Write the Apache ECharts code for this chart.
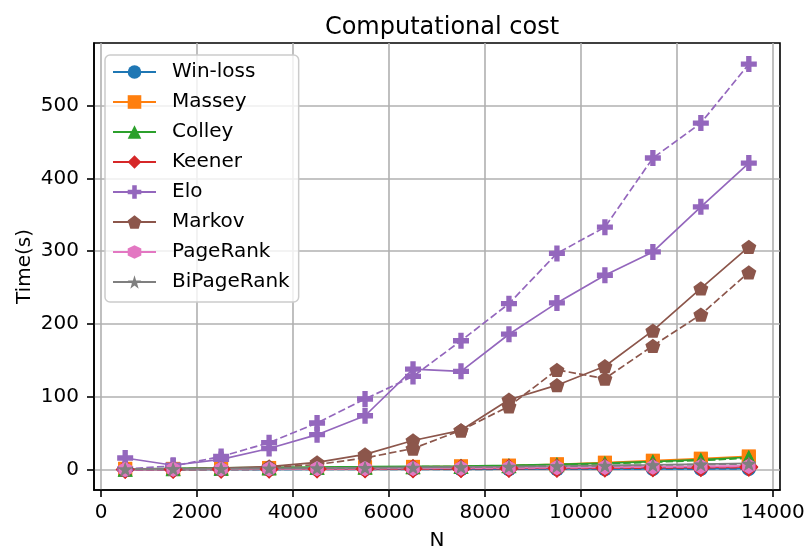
<!DOCTYPE html>
<html>
<head>
<meta charset="utf-8">
<script src="https://cdn.jsdelivr.net/npm/echarts@6/dist/echarts.min.js"></script>
<style>
  html, body { margin: 0; padding: 0; background: #fff; }
  #chart { width: 806px; height: 548px; }
</style>
</head>
<body>
<div id="chart"></div>
<script>
// Problem size N (x axis)
const N = [500, 1500, 2500, 3500, 4500, 5500, 6500, 7500, 8500, 9500, 10500, 11500, 12500, 13500];

// Tick values
const xTicks = [0, 2000, 4000, 6000, 8000, 10000, 12000, 14000];
const yTicks = [0, 100, 200, 300, 400, 500];

// Method names (legend)
const methods = ['Win-loss', 'Massey', 'Colley', 'Keener', 'Elo', 'Markov', 'PageRank', 'BiPageRank'];

// Run times in seconds, solid-line runs
const winLossA   = [0.2, 0.2, 0.3, 0.4, 0.5, 0.5, 0.6, 0.7, 0.8, 0.9, 1.0, 1.1, 1.2, 1.3];
const masseyA    = [1.2, 1.0, 1.4, 2.3, 2.6, 3.2, 3.8, 4.5, 5.6, 7.4, 9.6, 12.3, 15.1, 18.2];
const colleyA    = [0.6, 1.8, 2.4, 3.1, 3.6, 4.0, 4.6, 4.9, 5.8, 7.1, 8.8, 11.0, 13.6, 17.0];
const keenerA    = [0.3, 0.4, 0.6, 0.8, 1.0, 1.2, 1.4, 1.7, 2.0, 2.3, 2.6, 3.0, 3.4, 3.9];
const eloA       = [16, 6, 14, 29, 48, 74, 138, 135, 186, 229, 267, 299, 361, 421];
const markovA    = [1, 1, 2, 4, 10, 21, 40, 54, 96, 116, 142, 191, 249, 306];
const pageRankA  = [0.4, 0.6, 0.9, 1.1, 1.4, 1.7, 2.0, 2.3, 2.7, 3.1, 3.5, 4.0, 4.5, 5.1];
const biPageRankA = [0.6, 0.9, 1.3, 1.7, 2.1, 2.6, 3.1, 3.7, 4.3, 5.0, 5.8, 6.6, 7.6, 8.6];

// Run times in seconds, dashed-line runs
const winLossB   = [0.1, 0.1, 0.2, 0.2, 0.3, 0.3, 0.4, 0.4, 0.5, 0.6, 0.6, 0.7, 0.8, 0.9];
const masseyB    = [0.8, 0.9, 1.2, 1.9, 2.2, 2.8, 3.3, 4.1, 5.0, 6.8, 8.9, 11.2, 14.0, 16.7];
const colleyB    = [0.5, 1.1, 1.7, 2.2, 2.8, 3.3, 3.9, 4.4, 5.3, 6.6, 8.1, 10.2, 12.5, 15.8];
const keenerB    = [0.2, 0.3, 0.4, 0.5, 0.7, 0.8, 1.0, 1.2, 1.4, 1.6, 1.9, 2.2, 2.5, 2.8];
const eloB       = [1, 5, 18, 37, 64, 97, 128, 177, 228, 297, 333, 428, 476, 557];
const markovB    = [0.5, 1, 1.5, 3, 7, 16, 29, 54, 87, 137, 125, 170, 213, 271];
const pageRankB  = [0.3, 0.5, 0.7, 0.9, 1.2, 1.4, 1.7, 2.0, 2.3, 2.7, 3.0, 3.4, 3.9, 4.4];
const biPageRankB = [0.5, 0.8, 1.1, 1.5, 1.9, 2.3, 2.8, 3.3, 3.9, 4.6, 5.3, 6.1, 7.0, 7.9];

const solidRuns  = [winLossA, masseyA, colleyA, keenerA, eloA, markovA, pageRankA, biPageRankA];
const dashedRuns = [winLossB, masseyB, colleyB, keenerB, eloB, markovB, pageRankB, biPageRankB];

// tab10 palette
const colors = ['#1f77b4', '#ff7f0e', '#2ca02c', '#d62728', '#9467bd', '#8c564b', '#e377c2', '#7f7f7f'];

// Marker shapes: circle, square, triangle, diamond, filled plus, pentagon, hexagon, star
const starPath = (() => {
  const pts = [];
  for (let k = 0; k < 10; k++) {
    const r = k % 2 === 0 ? 1 : 0.381966;
    const a = Math.PI / 2 + k * Math.PI / 5;
    pts.push((r * Math.cos(a)).toFixed(4) + ',' + (-r * Math.sin(a)).toFixed(4));
  }
  return 'path://M' + pts.join(' L') + ' Z';
})();
const symbols = [
  'circle',
  'rect',
  'triangle',
  'diamond',
  'path://M2,0 H4 V2 H6 V4 H4 V6 H2 V4 H0 V2 H2 Z',
  'path://M0,-1 L-0.951,-0.309 L-0.588,0.809 L0.588,0.809 L0.951,-0.309 Z',
  'path://M0,-1 L-0.866,-0.5 L-0.866,0.5 L0,1 L0.866,0.5 L0.866,-0.5 Z',
  starPath
];
const sizes = [14, 14, 15, 19, 16, 15, 15, 15];

const FONT = 'DejaVu Sans';

function makeSeries(name, vals, i, dashed) {
  return {
    name: name,
    type: 'line',
    data: N.map((n, j) => [n, vals[j]]),
    symbol: symbols[i],
    symbolSize: sizes[i],
    symbolKeepAspect: true,
    showAllSymbol: true,
    animation: false,
    lineStyle: { color: colors[i], width: 1.7, type: dashed ? [7.4, 3.2] : 'solid' },
    itemStyle: { color: colors[i] },
    emphasis: { disabled: true }
  };
}

const series = [];
methods.forEach((m, i) => {
  series.push(makeSeries(m, solidRuns[i], i, false));
  series.push(makeSeries(m + ' (dashed)', dashedRuns[i], i, true));
});

const chart = echarts.init(document.getElementById('chart'), null, { renderer: 'canvas' });
chart.setOption({
  animation: false,
  backgroundColor: '#fff',
  title: {
    text: 'Computational cost',
    left: 437, top: 11,
    textAlign: 'center',
    textStyle: { fontFamily: FONT, fontSize: 24, fontWeight: 'normal', color: '#000' }
  },
  grid: {
    left: 94, right: 26, top: 43, bottom: 58,
    containLabel: false,
    outerBoundsMode: 'none',
    show: true, borderColor: '#000', borderWidth: 1.6, backgroundColor: 'transparent'
  },
  legend: {
    data: methods,
    orient: 'vertical',
    left: 105, top: 55,
    padding: [7, 9, 10, 7],
    itemWidth: 43, itemHeight: 17, itemGap: 10,
    backgroundColor: 'rgba(255,255,255,0.8)',
    borderColor: '#cccccc', borderWidth: 1.5, borderRadius: 5,
    selectedMode: false,
    textStyle: { fontFamily: FONT, fontSize: 20, color: '#000', lineHeight: 20, padding: [0, 0, 0, 11] }
  },
  xAxis: {
    type: 'value',
    min: -150, max: 14150,
    name: 'N',
    nameLocation: 'middle',
    nameGap: 41,
    nameMoveOverlap: false,
    nameTextStyle: { fontFamily: FONT, fontSize: 20, color: '#000' },
    axisLine: { show: true, onZero: false, lineStyle: { color: '#000', width: 1.6 } },
    axisTick: { show: true, length: 7, customValues: xTicks, lineStyle: { color: '#000', width: 1.6 } },
    axisLabel: { customValues: xTicks, margin: 13, fontFamily: FONT, fontSize: 20, color: '#000',
                 formatter: v => String(v) },
    splitLine: { show: true, lineStyle: { color: '#b0b0b0', width: 1.6 } }
  },
  yAxis: {
    type: 'value',
    min: -28, max: 586,
    name: 'Time(s)',
    nameLocation: 'middle',
    nameGap: 59,
    nameRotate: 90,
    nameMoveOverlap: false,
    nameTextStyle: { fontFamily: FONT, fontSize: 20, color: '#000' },
    axisLine: { show: true, onZero: false, lineStyle: { color: '#000', width: 1.6 } },
    axisTick: { show: true, length: 7, customValues: yTicks, lineStyle: { color: '#000', width: 1.6 } },
    axisLabel: { customValues: yTicks, margin: 15, fontFamily: FONT, fontSize: 20, color: '#000',
                 formatter: v => String(v) },
    splitLine: { show: true, lineStyle: { color: '#b0b0b0', width: 1.6 } }
  },
  series: series
});
</script>
</body>
</html>
